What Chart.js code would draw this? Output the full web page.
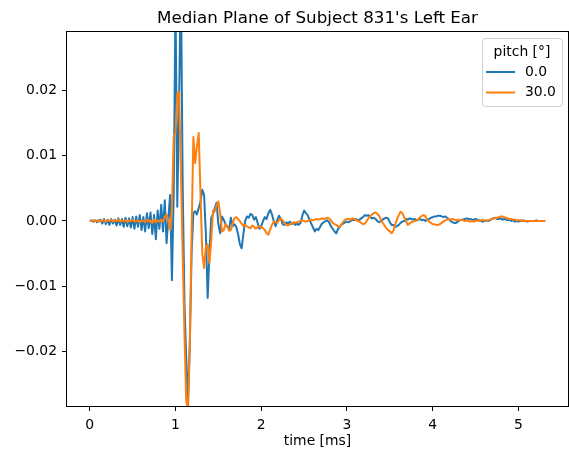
<!DOCTYPE html>
<html>
<head>
<meta charset="utf-8">
<script src="https://cdn.jsdelivr.net/npm/chart.js@4.4.0/dist/chart.umd.min.js"></script>
<style>
  html, body { margin: 0; padding: 0; background: #fff; }
  #chart { display: block; }
</style>
</head>
<body>
<canvas id="chart" width="569" height="451"></canvas>
<script>
const chartTitle = "Median Plane of Subject 831's Left Ear"
const xTitle = 'time [ms]'
const legendTitle = 'pitch [°]'
const seriesLabels = ['0.0', '30.0']
const seriesColors = ['#1f77b4', '#ff7f0e']
const sampleRateKHz = 48

// impulse response, pitch 0 deg (one value per sample)
const pitch0 = [
  0, 0.0001, -0.0001, 0.0001, -0.0002, 0.0001, 0.0002, -0.0004, 0.0003, -0.0005,
  0.0002, -0.0006, 0.0003, -0.0004, 0.0002, -0.0007, 0.0004, -0.0006, 0.0003, -0.0009,
  0.0005, -0.0008, 0.0004, -0.001, 0.0006, -0.0012, 0.0007, -0.0009, 0.0009, -0.0014,
  0.0006, -0.0016, 0.0012, -0.0011, 0.0013, -0.002, 0.0009, -0.0028, 0.0016, -0.0012,
  0.0025, -0.0016, 0.0032, -0.0034, 0.0005, 0.004, -0.0091, 0.0045, 0.034, 0.0022,
  0.018, 0.038, 0.006, -0.0125, -0.021, -0.0277, -0.019, -0.005, 0.0012, 0.0015,
  0.001, 0.002, 0.003, 0.0048, 0.004, -0.002, -0.0118, -0.005, 0.0005, 0.001,
  0.002, 0.0028, -0.0005, -0.0019, 0.0007, 0.0002, -0.0005, -0.0009, -0.0012, 0.0005,
  -0.0008, -0.0005, -0.0009, -0.002, -0.0035, -0.0042, -0.002, 0, 0.0007, 0.0005,
  0.0011, 0.0009, 0.0002, 0.0006, -0.0003, -0.0012, -0.0008, 0, 0.0006, 0.0003,
  0.0012, 0.0017, 0.001, 0, -0.0008, 0.0002, 0.0008, 0.0003, -0.0005, -0.0006,
  -0.0002, -0.0004, -0.0001, -0.0005, -0.0003, -0.0006, -0.0004, -0.0006, -0.0003, 0.0008,
  0.0016, 0.0012, 0.0009, 0.0002, -0.0004, -0.001, -0.0016, -0.0012, -0.0014, -0.0009,
  -0.0004, -0.0002, 0, 0.0001, -0.0002, -0.0008, -0.0012, -0.0016, -0.0019, -0.0012,
  -0.0009, -0.0005, -0.0004, -0.0002, -0.0001, -0.0002, 0, 0.0002, 0.0001, 0.0003,
  0.0001, 0.0002, 0.0004, 0.0006, 0.0009, 0.0008, 0.0009, 0.0006, 0.0004, 0.0005,
  0.0003, 0, -0.0002, 0, 0.0002, 0.0004, 0.0005, 0.0004, -0.0002, -0.0006,
  -0.0006, -0.0009, -0.0008, -0.0006, -0.0003, -0.0001, 0, 0.0003, 0.0002, 0.0004,
  0.0003, 0.0002, 0.0003, 0.0001, 0.0002, 0.0003, 0.0001, 0.0002, 0, 0.0002,
  0.0003, 0.0005, 0.0006, 0.0007, 0.0007, 0.0008, 0.0008, 0.0007, 0.0006, 0.0007,
  0.0005, 0.0003, 0, -0.0002, -0.0003, -0.0003, -0.0001, 0.0001, 0.0002, 0.0002,
  0.0003, 0.0004, 0.0003, 0.0003, 0.0002, 0.0002, 0.0003, 0.0002, 0.0001, 0,
  -0.0001, 0, 0.0001, 0, 0.0001, 0.0003, 0.0004, 0.0005, 0.0003, 0.0003,
  0.0004, 0.0002, 0.0003, 0.0002, 0.0001, 0.0002, 0, 0.0001, -0.0001, 0,
  -0.0001, 0, 0.0001, 0, 0, -0.0001, 0, 0, 0, 0,
  0.0001, 0, 0, 0, 0, 0
]

// impulse response, pitch 30 deg
const pitch30 = [
  0, 0, 0.0001, 0, 0.0001, -0.0001, 0.0001, 0, 0.0001, -0.0001,
  0.0001, 0, 0.0002, -0.0001, 0.0001, 0, 0.0002, -0.0001, 0.0001, 0,
  0.0001, -0.0002, 0.0001, 0, 0.0002, -0.0001, 0, 0.0001, -0.0002, 0.0001,
  0, -0.0002, 0.0002, -0.0001, 0.0001, -0.0003, 0.0002, -0.0002, 0.0001, -0.0001,
  0.0002, -0.0001, 0.0006, 0.001, 0, -0.0014, 0.002, 0.0129, 0.0135, 0.0196,
  0.0198, 0.008, -0.005, -0.017, -0.0275, -0.0292, -0.019, -0.002, 0.0129, 0.0089,
  0.0115, 0.0135, 0.004, -0.005, -0.0072, -0.004, -0.0036, -0.0064, -0.003, 0.0016,
  0.0015, 0.0024, 0.003, 0.0012, -0.0016, -0.0014, -0.0005, -0.0008, -0.0015, -0.0014,
  -0.0004, 0.0004, 0.0006, 0.0003, 0, -0.0004, -0.0008, -0.0006, -0.0008, -0.001,
  -0.0011, -0.0007, -0.0009, -0.0012, -0.0009, -0.0008, -0.001, -0.0011, -0.0014, -0.0019,
  -0.0021, -0.0013, -0.0006, -0.0001, -0.0002, -0.0003, 0.0002, 0.0004, 0.0001, -0.0003,
  -0.0006, -0.0007, -0.0005, -0.0004, -0.0002, -0.0003, -0.0002, -0.0001, 0, 0.0001,
  0, -0.0001, 0, 0.0001, 0.0002, 0.0001, 0.0002, 0.0003, 0.0002, 0.0003,
  0.0004, 0.0003, 0.0004, 0.0005, 0.0004, 0.0001, -0.0003, -0.0005, -0.0006, -0.0008,
  -0.0009, -0.0005, -0.0001, 0.0002, 0.0003, 0.0003, 0.0002, 0.0004, 0.0003, 0.0002,
  0, -0.0001, -0.0003, -0.0005, -0.0004, 0, 0.0004, 0.0007, 0.001, 0.0012,
  0.0013, 0.0011, 0.0008, 0.0002, -0.0003, -0.0007, -0.0011, -0.0014, -0.0016, -0.0019,
  -0.0015, -0.0006, 0.0003, 0.0009, 0.0014, 0.0012, 0.0006, 0, -0.0006, -0.0004,
  -0.0002, -0.0001, 0, 0.0001, 0.0003, 0.0006, 0.0008, 0.0009, 0.0007, 0.0002,
  -0.0001, -0.0003, -0.0005, -0.0005, -0.0006, -0.0006, -0.0005, -0.0003, -0.0001, 0.0001,
  0.0002, 0.0003, 0.0002, 0.0003, 0.0002, 0.0001, 0.0002, 0.0001, 0.0002, 0.0001,
  0, 0.0001, 0, -0.0001, 0, -0.0001, 0, 0.0001, 0, 0.0001,
  0.0002, 0.0001, 0, 0.0001, 0.0002, 0.0003, 0.0004, 0.0004, 0.0005, 0.0006,
  0.0007, 0.0007, 0.0006, 0.0005, 0.0004, 0.0003, 0.0003, 0.0002, 0.0002, 0.0001,
  0.0001, 0.0001, 0, 0.0001, 0, 0, 0, 0, 0, 0,
  0, 0, 0, 0, 0, 0
]

const xTicks = [0, 1, 2, 3, 4, 5]
const yTicks = [-0.02, -0.01, 0, 0.01, 0.02]
const xRange = [-0.2656, 5.578]
const yRange = [-0.0284, 0.029]

// sample index -> time in ms
const timeMs = pitch0.map((_, i) => i / sampleRateKHz)
const toPoints = values => values.map((y, i) => ({ x: timeMs[i], y }))

const fontFamily = '"DejaVu Sans", sans-serif'
Chart.defaults.font.family = fontFamily
Chart.defaults.font.size = 13.9
Chart.defaults.color = '#000'

// matplotlib style box round the axes
const frame = {
  id: 'frame',
  afterDatasetsDraw (chart) {
    const { ctx, chartArea: a } = chart
    ctx.save()
    ctx.strokeStyle = '#000'
    ctx.lineWidth = 1
    ctx.strokeRect(Math.round(a.left) - 0.5, Math.round(a.top) - 0.5,
      Math.round(a.right - a.left) + 1, Math.round(a.bottom - a.top) + 1)
    ctx.restore()
  }
}

// legend inside the upper right corner
const legendBox = {
  id: 'legendBox',
  afterDraw (chart) {
    const { ctx, chartArea } = chart
    const w = 80
    const h = 68
    const left = Math.round(chartArea.right) - 6 - w
    const top = Math.round(chartArea.top) + 6
    ctx.save()
    ctx.beginPath()
    ctx.roundRect(left + 0.5, top + 0.5, w, h, 3)
    ctx.fillStyle = 'rgba(255,255,255,0.8)'
    ctx.fill()
    ctx.strokeStyle = '#d0d0d0'
    ctx.lineWidth = 1
    ctx.stroke()
    ctx.font = '13.9px ' + fontFamily
    ctx.fillStyle = '#000'
    ctx.textBaseline = 'middle'
    ctx.textAlign = 'center'
    ctx.fillText(legendTitle, left + w / 2, top + 14)
    chart.data.datasets.forEach((ds, i) => {
      const y = top + 34 + i * 20.5
      ctx.strokeStyle = ds.borderColor
      ctx.lineWidth = 2
      ctx.beginPath()
      ctx.moveTo(left + 4, y)
      ctx.lineTo(left + 33, y)
      ctx.stroke()
      ctx.textAlign = 'left'
      ctx.fillText(ds.label, left + 43, y)
    })
    ctx.restore()
  }
}

const tickGrid = {
  display: true,
  drawOnChartArea: false,
  drawTicks: true,
  tickLength: 5,
  tickColor: '#000',
  tickWidth: 1
}

const fmtY = v => (v < 0 ? '\u2212' : '') + Math.abs(v).toFixed(2)

const chart = new Chart(document.querySelector('#chart'), {
  type: 'line',
  data: {
    datasets: [pitch0, pitch30].map((values, i) => ({
      label: seriesLabels[i],
      data: toPoints(values),
      borderColor: seriesColors[i],
      backgroundColor: seriesColors[i],
      borderWidth: 2,
      borderJoinStyle: 'round',
      pointRadius: 0,
      tension: 0,
      clip: 0,
      order: 1 - i
    }))
  },
  options: {
    responsive: false,
    animation: false,
    devicePixelRatio: 1,
    layout: { padding: { left: 0, right: 1, top: 0, bottom: 0 } },
    plugins: {
      legend: { display: false },
      tooltip: { enabled: false },
      title: {
        display: true,
        text: chartTitle,
        fullSize: false,
        color: '#000',
        font: { size: 16.7, weight: 'normal' },
        padding: { top: 9, bottom: 3 }
      }
    },
    scales: {
      x: {
        type: 'linear',
        min: xRange[0],
        max: xRange[1],
        afterBuildTicks: axis => { axis.ticks = xTicks.map(value => ({ value })) },
        afterFit: axis => { axis.height = 45 },
        grid: tickGrid,
        border: { display: false },
        ticks: { padding: 6, maxRotation: 0, autoSkip: false, callback: v => String(v) },
        title: { display: true, text: xTitle, padding: { top: 0, bottom: 1 } }
      },
      y: {
        type: 'linear',
        min: yRange[0],
        max: yRange[1],
        afterBuildTicks: axis => { axis.ticks = yTicks.map(value => ({ value })) },
        afterFit: axis => { axis.width = 67 },
        grid: tickGrid,
        border: { display: false },
        ticks: { padding: 5, autoSkip: false, callback: fmtY }
      }
    }
  },
  plugins: [frame, legendBox]
})
</script>
</body>
</html>
